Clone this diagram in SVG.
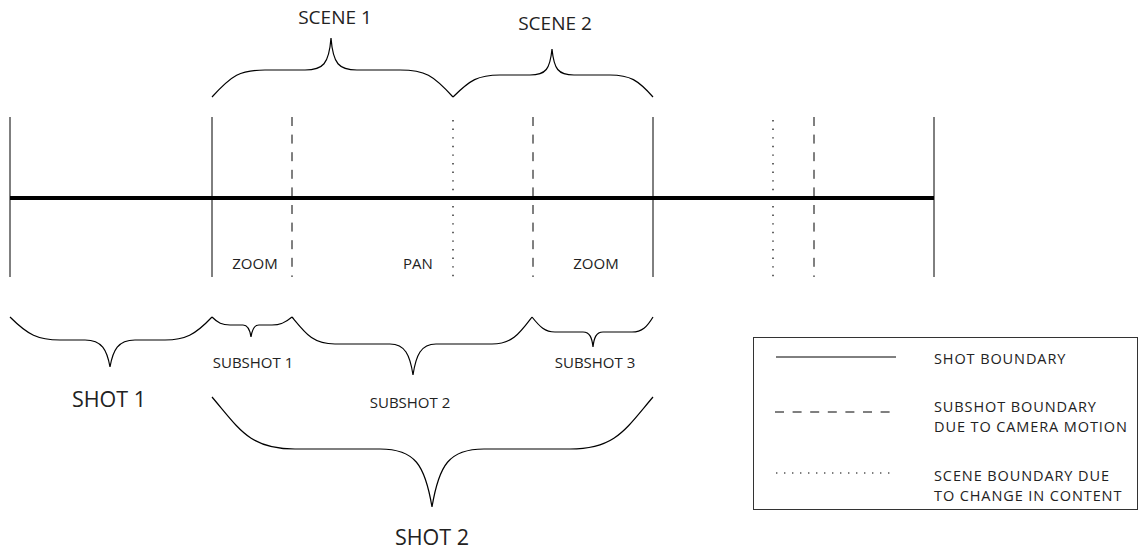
<svg xmlns="http://www.w3.org/2000/svg" width="1143" height="550" viewBox="0 0 1143 550">
<style>
.solid{stroke:#000;stroke-width:1;fill:none}
.dash{stroke:#000;stroke-width:1;fill:none;stroke-dasharray:9,8.6}
.dot{stroke:#000;stroke-width:1.2;fill:none;stroke-dasharray:1.4,7.2}
.brace{stroke:#000;stroke-width:1.2;fill:none}
.axis{stroke:#000;stroke-width:4;fill:none}
text{font-family:"Open Sans","Noto Sans",sans-serif;fill:#222}
.s{font-size:15px;text-anchor:middle}
.m{font-size:19px;text-anchor:middle}
.l{font-size:21.5px;text-anchor:middle}
.lg{font-size:14.5px;letter-spacing:0.9px}
</style>
<rect width="1143" height="550" fill="#fff"/>
<g id="connectors">
<line class="axis" x1="10" y1="198" x2="934" y2="198"/>
<line class="solid" x1="10" y1="117" x2="10" y2="277"/>
<line class="solid" x1="212" y1="117" x2="212" y2="277"/>
<line class="solid" x1="653" y1="117" x2="653" y2="277"/>
<line class="solid" x1="934" y1="117" x2="934" y2="277"/>
<line class="dash" x1="292" y1="117" x2="292" y2="277"/>
<line class="dash" x1="533" y1="117" x2="533" y2="277"/>
<line class="dash" x1="814" y1="117" x2="814" y2="277"/>
<line class="dot" x1="453" y1="120" x2="453" y2="278"/>
<line class="dot" x1="773" y1="120" x2="773" y2="278"/>
</g>
<g id="scene1">
<path class="brace" d="M212,97 C232,75 240,70 265,70 L305,70 C323,70 329,64 331,38 C333,64 339,70 357,70 L400,70 C425,70 433,75 453,97"/>
<text class="m" x="335" y="24">SCENE 1</text>
</g>
<g id="scene2">
<path class="brace" d="M453,97 C470,80 478,75 500,75 L530,75 C546,75 550,69 552,49 C554,69 558,75 574,75 L610,75 C630,75 638,80 653,97"/>
<text class="m" x="555" y="30">SCENE 2</text>
</g>
<g id="motion-labels">
<text class="s" x="255" y="269">ZOOM</text>
<text class="s" x="418" y="269">PAN</text>
<text class="s" x="596" y="269">ZOOM</text>
</g>
<g id="shot1">
<path class="brace" d="M10,317 C28,335 38,340 60,340 L85,340 C102,340 107,350 110,367 C113,350 118,340 135,340 L165,340 C185,340 195,335 212,317"/>
<text class="l" x="109" y="407">SHOT 1</text>
</g>
<g id="subshot1">
<path class="brace" d="M212,317 C218,323 222,325 230,325 L243,325 C248,325 250,330 251,337 C252,330 254,325 259,325 L272,325 C280,325 285,323 292,317"/>
<text class="s" x="253" y="368">SUBSHOT 1</text>
</g>
<g id="subshot2">
<path class="brace" d="M292,317 C306,334 313,344 335,344 L390,344 C405,344 410,355 413,375 C416,355 421,344 436,344 L492,344 C512,344 519,334 532,317"/>
<text class="s" x="410" y="408">SUBSHOT 2</text>
</g>
<g id="subshot3">
<path class="brace" d="M532,317 C540,327 545,332 555,332 L583,332 C590,332 592,338 593,347 C594,338 596,332 603,332 L632,332 C642,332 647,327 653,317"/>
<text class="s" x="595" y="368">SUBSHOT 3</text>
</g>
<g id="shot2">
<path class="brace" d="M212,397 C240,430 250,449 295,449 L380,449 C415,449 425,465 432,507 C439,465 449,449 484,449 L570,449 C615,449 625,430 653,397"/>
<text class="l" x="432" y="545">SHOT 2</text>
</g>
<g id="legend">
<rect x="753.5" y="337.5" width="384" height="172" fill="none" stroke="#333" stroke-width="1"/>
<line class="solid" x1="776" y1="357" x2="896" y2="357"/>
<line class="dash" x1="775" y1="412" x2="890" y2="412"/>
<line class="dot" x1="776" y1="473" x2="892" y2="473" style="stroke-dasharray:1.4,6.6"/>
<text class="lg" x="934" y="364">SHOT BOUNDARY</text>
<text class="lg" x="934" y="412">SUBSHOT BOUNDARY</text>
<text class="lg" x="934" y="432">DUE TO CAMERA MOTION</text>
<text class="lg" x="934" y="481">SCENE BOUNDARY DUE</text>
<text class="lg" x="934" y="501">TO CHANGE IN CONTENT</text>
</g>
</svg>
